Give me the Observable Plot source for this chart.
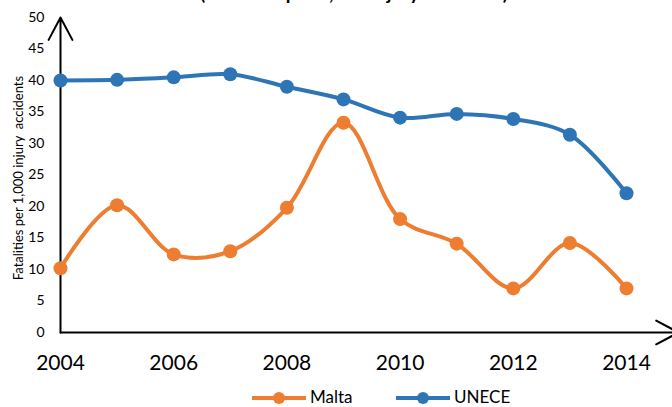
<!DOCTYPE html>
<html>
<head>
<meta charset="utf-8">
<script src="https://cdn.jsdelivr.net/npm/d3@7"></script>
<script src="https://cdn.jsdelivr.net/npm/@observablehq/plot@0.6"></script>
<style>
  html, body { margin: 0; padding: 0; background: #fff; overflow: hidden; }
  #wrap { position: relative; width: 672px; height: 407px; overflow: hidden; font-family: Lato, sans-serif; }
  #title { position: absolute; top: -17px; left: 18px; width: 672px; text-align: center; font-size: 19px; line-height: 19px; font-weight: bold; color: #000; white-space: nowrap; }
  #chart { position: absolute; top: 0; left: 0; }
  #legend { position: absolute; top: 385px; left: 0; }
</style>
</head>
<body>
<div id="wrap">
  <div id="title"></div>
  <div id="chart"></div>
  <div id="legend"></div>
</div>
<script>
const titleText = "(Fatalities per 1,000 injury accidents)";
const yLabel = "Fatalities per 1,000 injury  accidents";
const years = [2004, 2005, 2006, 2007, 2008, 2009, 2010, 2011, 2012, 2013, 2014];
const malta = [10.2, 20.2, 12.4, 12.9, 19.8, 33.3, 18.0, 14.1, 7.0, 14.2, 7.0];
const unece = [40.0, 40.1, 40.5, 41.0, 39.0, 37.0, 34.1, 34.7, 33.9, 31.4, 22.1];
const seriesNames = ["Malta", "UNECE"];
const seriesColors = ["#ED7D31", "#2E75B6"];
const xTicks = [2004, 2006, 2008, 2010, 2012, 2014];
const yTicks = [0, 5, 10, 15, 20, 25, 30, 35, 40, 45, 50];

document.getElementById("title").textContent = titleText;

const data = [];
years.forEach((yr, i) => {
  data.push({year: yr, value: malta[i], series: seriesNames[0]});
});
years.forEach((yr, i) => {
  data.push({year: yr, value: unece[i], series: seriesNames[1]});
});

const axes = [
  {x1: years[0], y1: 0, x2: years[0], y2: 50},
  {x1: years[0], y1: 0, x2: 2014.92, y2: 0}
];

const chart = Plot.plot({
  width: 672,
  height: 385,
  marginLeft: 60,
  marginRight: 46,
  marginTop: 17,
  marginBottom: 53,
  style: {fontFamily: "Lato, sans-serif", background: "transparent", overflow: "visible"},
  x: {domain: [2004, 2014]},
  y: {domain: [0, 50]},
  color: {domain: seriesNames, range: seriesColors},
  marks: [
    Plot.axisY({ticks: yTicks, tickSize: 0, tickPadding: 16, fontSize: 14, label: null, tickFormat: d => String(d), fill: "#000"}),
    Plot.axisX({ticks: xTicks, tickSize: 0, tickPadding: 23, fontSize: 21, label: null, tickFormat: d => String(d), fill: "#000"}),
    Plot.text([yLabel], {frameAnchor: "left", textAnchor: "middle", lineAnchor: "middle", rotate: -90, dx: -42, dy: 3, fontSize: 13, fill: "#000", text: d => d}),
    Plot.arrow(axes, {x1: "x1", y1: "y1", x2: "x2", y2: "y2", stroke: "#000", strokeWidth: 2, headLength: 19, headAngle: 56, clip: false}),
    Plot.line(data, {x: "year", y: "value", z: "series", stroke: "series", strokeWidth: 4, curve: "catmull-rom"}),
    Plot.dot(data, {x: "year", y: "value", fill: "series", r: 7, stroke: "none"})
  ]
});
// keep the double space in the y label
chart.querySelectorAll("text").forEach(t => { if (t.textContent === yLabel) { t.setAttribute("xml:space", "preserve"); t.style.whiteSpace = "pre"; } });
document.getElementById("chart").appendChild(chart);

// legend
const lg = d3.select("#legend").append("svg").attr("width", 672).attr("height", 22)
  .style("font-family", "Lato, sans-serif");
const itemX = [252, 396];
seriesNames.forEach((name, i) => {
  const g = lg.append("g").attr("transform", `translate(${itemX[i]},0)`);
  g.append("line").attr("x1", 0).attr("x2", 54).attr("y1", 13).attr("y2", 13)
    .attr("stroke", seriesColors[i]).attr("stroke-width", 4);
  g.append("circle").attr("cx", 27).attr("cy", 13).attr("r", 6).attr("fill", seriesColors[i]);
  g.append("text").attr("x", 58).attr("y", 18).attr("font-size", 17).attr("fill", "#000").text(name);
});
</script>
</body>
</html>
